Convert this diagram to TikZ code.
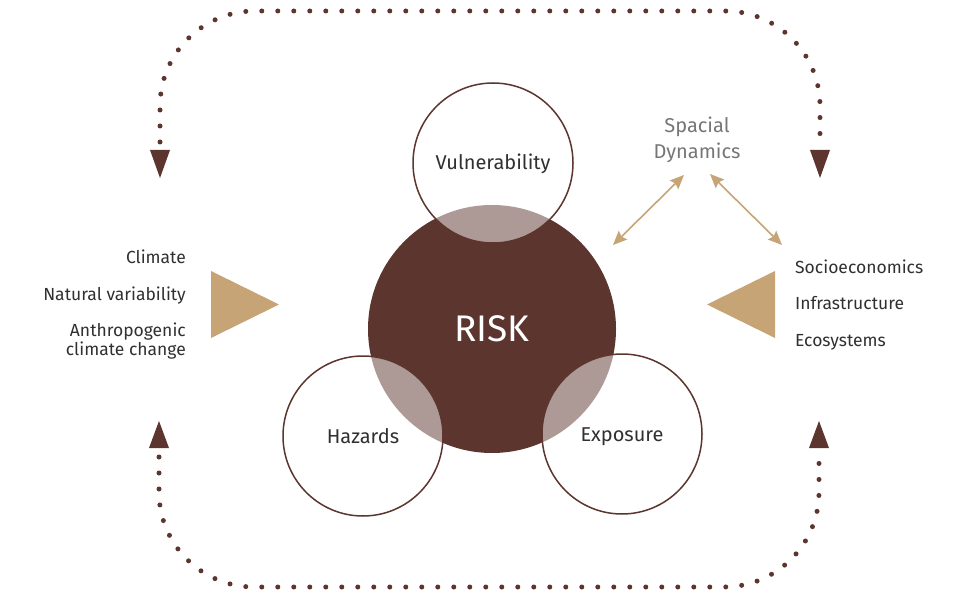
\documentclass[tikz,border=0pt]{standalone}
\usepackage{fontspec}
\setmainfont{Fira Sans}
\usetikzlibrary{arrows.meta}
\definecolor{riskbrown}{HTML}{5C362E}
\definecolor{goldc}{HTML}{C6A475}
\definecolor{txtc}{HTML}{303030}
\definecolor{graytxt}{HTML}{767676}
\tikzset{
  smallcirc/.style={circle, draw=riskbrown, line width=1.5pt, fill=white, fill opacity=0.5, text opacity=1, draw opacity=1, minimum size=160pt, inner sep=0pt, text=txtc, font=\fontsize{20}{24}\selectfont, text height=14pt, text depth=0pt},
  riskcirc/.style={circle, fill=riskbrown, minimum size=248pt, inner sep=0pt, text=white, font=\fontsize{37}{40}\selectfont, text height=25.5pt, text depth=0pt},
  dotline/.style={draw=riskbrown, line width=5pt, line cap=round, dash pattern=on 0pt off 16pt, rounded corners=95pt},
  tip/.style={fill=riskbrown},
  goldtri/.style={fill=goldc},
  lab/.style={text=txtc, font=\fontsize{17.5}{21}\selectfont, inner sep=0pt},
  onelab/.style={lab, text height=12pt, text depth=0pt},
  goldarrow/.style={draw=goldc, line width=1.6pt, {Stealth[length=14pt,width=12pt,inset=2pt]}-{Stealth[length=14pt,width=12pt,inset=2pt]}},
}
\begin{document}
\begin{tikzpicture}[x=1pt,y=-1pt]
\useasboundingbox (0,0) rectangle (963,593);
% dotted loops
\draw[dotline] (160,142) -- (160,11) -- (820,11) -- (820,142);
\draw[dotline] (159,457) -- (159,587) -- (819,587) -- (819,457);
% arrow heads
\fill[tip] (150,150) -- (170,150) -- (160,178) -- cycle;
\fill[tip] (810,150) -- (830,150) -- (820,178) -- cycle;
\fill[tip] (149,448) -- (169,448) -- (159,421) -- cycle;
\fill[tip] (809,448) -- (829,448) -- (819,421) -- cycle;
% gold triangles
\fill[goldtri] (211,271) -- (211,338) -- (279,304.5) -- cycle;
\fill[goldtri] (775,271) -- (775,338) -- (707,304.5) -- cycle;
% circles
\node[riskcirc] (risk) at (492,329) {RISK};
\node[smallcirc] (vul) at (493,163) {Vulnerability};
\node[smallcirc] (haz) at (363,436) {Hazards};
\node[smallcirc] (exp) at (622,434) {Exposure};
% left labels
\node[onelab, anchor=east] (clim) at (186,258) {Climate};
\node[onelab, anchor=east] (natv) at (186,295) {Natural variability};
\node[lab, anchor=east, align=right] (anth) at (186,341) {Anthropogenic\\[-2pt]climate change};
% right labels
\node[onelab, anchor=west] (soc) at (795,268) {Socioeconomics};
\node[onelab, anchor=west] (inf) at (795,304) {Infrastructure};
\node[onelab, anchor=west] (eco) at (795,340) {Ecosystems};
% spacial dynamics
\node[text=graytxt, font=\fontsize{20}{26}\selectfont, align=center] (sd) at (697,140) {Spacial\\Dynamics};
\coordinate (sdl) at (684,175);
\coordinate (sdr) at (710,174);
\coordinate (al) at (613,245);
\coordinate (ar) at (782,245);
\draw[goldarrow] (sdl) -- (al);
\draw[goldarrow] (sdr) -- (ar);
\end{tikzpicture}
\end{document}
